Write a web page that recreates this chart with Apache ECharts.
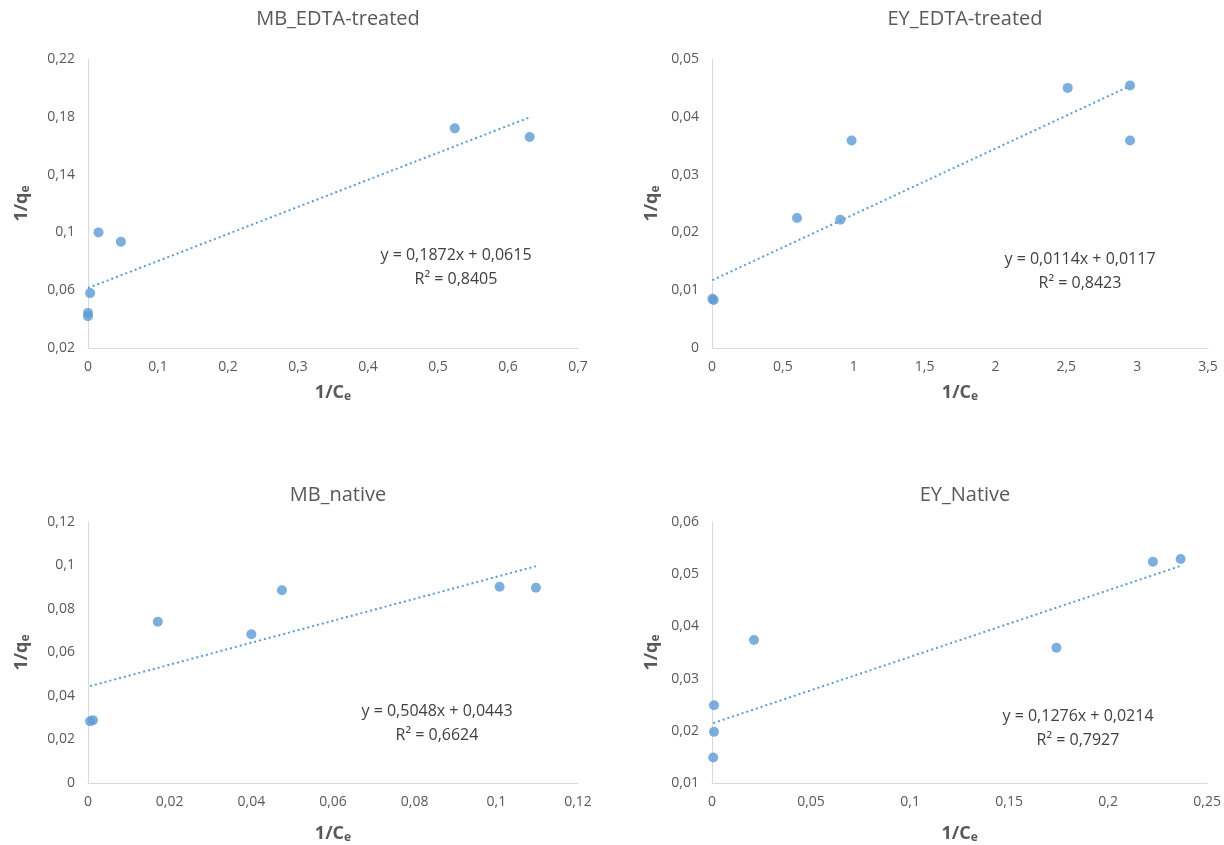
<!DOCTYPE html>
<html lang="en">
<head>
  <meta charset="UTF-8">
  <title>Langmuir plots</title>
  <script src="https://cdn.jsdelivr.net/npm/echarts@6/dist/echarts.min.js"></script>
</head>
<body style="margin:0;background:#fff">
  <div id="main" style="width:1224px;height:845px"></div>
  <script>
    // data: [1/Ce, 1/qe]
    var mbEdta = [[0.524, 0.172], [0.631, 0.166], [0.015, 0.100], [0.047, 0.0936], [0.003, 0.058], [0, 0.0443], [0, 0.042]]
    var eyEdta = [[2.51, 0.0450], [2.95, 0.0454], [0.985, 0.0359], [2.95, 0.0359], [0.60, 0.0225], [0.905, 0.0222], [0.003, 0.0085], [0.012, 0.0083]]
    var mbNative = [[0.0171, 0.0741], [0.040, 0.0684], [0.0475, 0.0886], [0.1008, 0.0902], [0.1097, 0.0898], [0.0005, 0.0284], [0.0012, 0.0289]]
    var eyNative = [[0.2226, 0.0524], [0.2366, 0.0529], [0.0212, 0.0374], [0.1739, 0.0359], [0.001, 0.0249], [0.001, 0.0198], [0.0006, 0.0149]]

    var titles = ['MB_EDTA-treated', 'EY_EDTA-treated', 'MB_native', 'EY_Native']
    // trendline [slope, intercept, R²]
    var fits = [[0.1872, 0.0615, 0.8405], [0.0114, 0.0117, 0.8423], [0.5048, 0.0443, 0.6624], [0.1276, 0.0214, 0.7927]]
    // axes [xmin, xmax, xstep, ymin, ymax, ystep]
    var axes = [[0, 0.7, 0.1, 0.02, 0.22, 0.04], [0, 3.5, 0.5, 0, 0.05, 0.01], [0, 0.12, 0.02, 0, 0.12, 0.02], [0, 0.25, 0.05, 0.01, 0.06, 0.01]]
    var sets = [mbEdta, eyEdta, mbNative, eyNative]

    var blue = '#5B9BD5'
    var grids = [
      { left: 88, top: 59, width: 490, height: 289 },
      { left: 712, top: 59, width: 496, height: 289 },
      { left: 88, top: 522, width: 490, height: 261 },
      { left: 712, top: 522, width: 496, height: 261 }
    ]
    var eqPos = [[456, 243], [1080, 247], [437, 699], [1078, 704]]

    function comma(v) {
      return String(+v.toFixed(4)).replace('.', ',')
    }
    var rich = {
      m: { fontFamily: 'Open Sans', fontWeight: 'bold', fontSize: 18, color: '#595959' },
      s: { fontFamily: 'Open Sans', fontWeight: 'bold', fontSize: 12, color: '#595959', verticalAlign: 'bottom', padding: [9, 0, 0, 0] }
    }

    var title = [], xAxis = [], yAxis = [], series = [], graphic = []
    sets.forEach(function (pts, i) {
      var g = grids[i], a = axes[i], f = fits[i]
      title.push({
        text: titles[i], left: g.left + g.width / 2, top: i < 2 ? 4 : 480, textAlign: 'center',
        textStyle: { fontFamily: 'Open Sans', fontWeight: 'normal', fontSize: 20, color: '#595959' }
      })
      xAxis.push({
        type: 'value', gridIndex: i, min: a[0], max: a[1], interval: a[2],
        name: '{m|1/C}{s|e}', nameLocation: 'middle', nameGap: i < 2 ? 34 : 40,
        nameTextStyle: { rich: rich },
        axisLine: { lineStyle: { color: '#D9D9D9', width: 1 } },
        axisTick: { show: false }, splitLine: { show: false },
        axisLabel: { formatter: comma, color: '#595959', fontFamily: 'Open Sans', fontSize: 14, margin: 12 }
      })
      yAxis.push({
        type: 'value', gridIndex: i, min: a[3], max: a[4], interval: a[5],
        name: '{m|1/q}{s|e}', nameLocation: 'middle', nameGap: i % 2 ? 50 : 56, nameRotate: 90,
        nameTextStyle: { rich: rich },
        axisLine: { show: true, lineStyle: { color: '#D9D9D9', width: 1 } },
        axisTick: { show: false }, splitLine: { show: false },
        axisLabel: { formatter: comma, color: '#595959', fontFamily: 'Open Sans', fontSize: 14, margin: 13 }
      })
      var xs = pts.map(function (p) { return p[0] })
      var x0 = Math.min.apply(null, xs), x1 = Math.max.apply(null, xs)
      series.push({
        type: 'line', xAxisIndex: i, yAxisIndex: i, symbol: 'none', silent: true,
        data: [[x0, f[0] * x0 + f[1]], [x1, f[0] * x1 + f[1]]],
        lineStyle: { color: blue, width: 2, type: [2, 3] }, z: 1
      })
      series.push({
        type: 'scatter', xAxisIndex: i, yAxisIndex: i, data: pts, symbolSize: 10,
        itemStyle: { color: blue }, z: 2
      })
      graphic.push({
        type: 'text', x: eqPos[i][0], y: eqPos[i][1],
        style: {
          text: 'y = ' + comma(f[0]) + 'x + ' + comma(f[1]) + '\nR² = ' + comma(f[2]),
          align: 'center', lineHeight: 24, fill: '#404040', font: '16px "Open Sans"'
        }
      })
    })

    var chart = echarts.init(document.getElementById('main'))
    chart.setOption({
      animation: false,
      title: title,
      grid: grids,
      xAxis: xAxis,
      yAxis: yAxis,
      series: series,
      graphic: graphic
    })
  </script>
</body>
</html>
